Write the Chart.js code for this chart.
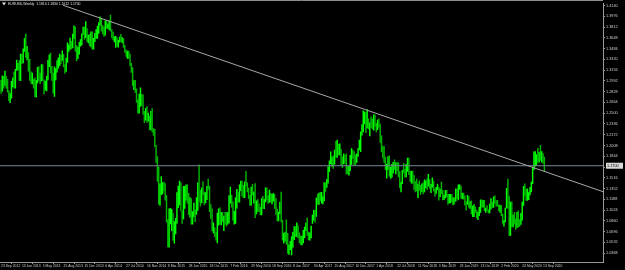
<!DOCTYPE html>
<html><head><meta charset="utf-8">
<script src="https://cdn.jsdelivr.net/npm/chart.js@4/dist/chart.umd.min.js"></script>
<style>html,body{margin:0;padding:0;background:#000;overflow:hidden}#wrap{width:625px;height:270px}</style>
</head><body><div id="wrap"><canvas id="c" width="625" height="270"></canvas></div>
<script>
// Weekly EURUSD bars, week 0 = 23 Sep 2012
const xTickLabels = ['23 Sep 2012','13 Jan 2013','5 May 2013','25 Aug 2013','15 Dec 2013','6 Apr 2014','27 Jul 2014','16 Nov 2014','8 Mar 2015','28 Jun 2015','18 Oct 2015','7 Feb 2016','29 May 2016','18 Sep 2016','8 Jan 2017','30 Apr 2017','20 Aug 2017','10 Dec 2017','1 Apr 2018','22 Jul 2018','11 Nov 2018','3 Mar 2019','23 Jun 2019','13 Oct 2019','2 Feb 2020','24 May 2020','13 Sep 2020'];
const xTickWeeks = [0,16,32,48,64,80,96,112,128,144,160,176,192,208,224,240,256,272,288,304,320,336,352,368,384,400,416];
const yTickValues = [1.4140,1.3976,1.3812,1.3648,1.3484,1.3320,1.3156,1.2992,1.2828,1.2664,1.2500,1.2336,1.2172,1.2008,1.1844,1.1680,1.1516,1.1352,1.1188,1.1024,1.0860,1.0696,1.0532,1.0368];
const headerText = 'EURUSD,Weekly  1.1814 1.1830 1.1612 1.1700';
const lastPrice = 1.1700;
const firstOpen = 1.2980;
const trendLine = [{x:47.6,y:1.4144},{x:462,y:1.1305}];

const highs = [
1.3000,1.3070,1.3060,1.3140,1.3060,1.3015,1.2840,1.2800,1.2985,1.3040,
1.3125,1.3170,1.3310,1.3260,1.3300,1.3400,1.3400,1.3480,1.3640,1.3710,
1.3520,1.3420,1.3320,1.3130,1.3110,1.3020,1.3040,1.3000,1.3200,1.3210,
1.3110,1.3240,1.3240,1.3010,1.2990,1.3060,1.3305,1.3390,1.3415,1.3215,
1.3110,1.3205,1.3180,1.3300,1.3345,1.3400,1.3380,1.3450,1.3395,1.3240,
1.3340,1.3570,1.3540,1.3645,1.3595,1.3705,1.3830,1.3810,1.3530,1.3505,
1.3580,1.3620,1.3710,1.3810,1.3810,1.3895,1.3790,1.3690,1.3700,1.3740,
1.3740,1.3640,1.3715,1.3775,1.3825,1.3880,1.3967,1.3945,1.3835,1.3810,
1.3905,1.3905,1.3860,1.3905,1.3993,1.3775,1.3735,1.3665,1.3670,1.3650,
1.3615,1.3660,1.3700,1.3650,1.3635,1.3535,1.3465,1.3445,1.3445,1.3400,
1.3260,1.3195,1.2995,1.3000,1.2870,1.2705,1.2790,1.2885,1.2790,1.2780,
1.2530,1.2575,1.2600,1.2500,1.2455,1.2530,1.2570,1.2265,1.2255,1.2010,
1.1840,1.1680,1.1425,1.1535,1.1445,1.1450,1.1430,1.1245,1.0880,1.1045,
1.1050,1.1035,1.0975,1.0850,1.0900,1.1290,1.1390,1.1465,1.1440,1.1010,
1.1385,1.1385,1.1410,1.1410,1.1280,1.1215,1.1200,1.1000,1.1130,1.1030,
1.1215,1.1440,1.1715,1.1330,1.1365,1.1460,1.1300,1.1290,1.1385,1.1495,
1.1390,1.1110,1.1045,1.0830,1.0760,1.0690,1.0980,1.1045,1.1060,1.0990,
1.0990,1.0935,1.0990,1.0990,1.0985,1.1245,1.1375,1.1250,1.1150,1.1005,
1.1215,1.1340,1.1290,1.1410,1.1465,1.1465,1.1400,1.1455,1.1615,1.1440,
1.1360,1.1250,1.1375,1.1415,1.1300,1.1430,1.1165,1.1185,1.1120,1.1065,
1.1200,1.1235,1.1185,1.1365,1.1365,1.1245,1.1330,1.1280,1.1265,1.1280,
1.1260,1.1200,1.1040,1.0995,1.1145,1.1300,1.0870,1.0670,1.0690,1.0875,
1.0670,1.0495,1.0550,1.0620,1.0685,1.0775,1.0775,1.0830,1.0785,1.0680,
1.0630,1.0630,1.0715,1.0765,1.0830,1.0905,1.0690,1.0680,1.0780,1.0950,
1.1020,1.1025,1.1210,1.1270,1.1285,1.1295,1.1295,1.1225,1.1445,1.1445,
1.1490,1.1685,1.1775,1.1910,1.1830,1.1850,1.1940,1.2070,1.2090,1.2030,
1.2035,1.1950,1.1835,1.1880,1.1860,1.1880,1.1690,1.1690,1.1860,1.1960,
1.1940,1.1915,1.1865,1.1880,1.1960,1.2090,1.2215,1.2325,1.2535,1.2520,
1.2510,1.2555,1.2415,1.2355,1.2445,1.2410,1.2475,1.2475,1.2345,1.2395,
1.2415,1.2335,1.2155,1.2000,1.1995,1.1830,1.1725,1.1840,1.1850,1.1675,
1.1720,1.1750,1.1790,1.1745,1.1750,1.1745,1.1610,1.1450,1.1630,1.1735,
1.1645,1.1720,1.1815,1.1815,1.1615,1.1620,1.1620,1.1550,1.1460,1.1500,
1.1420,1.1470,1.1400,1.1425,1.1440,1.1485,1.1470,1.1500,1.1570,1.1490,
1.1415,1.1515,1.1465,1.1345,1.1370,1.1420,1.1375,1.1345,1.1450,1.1325,
1.1255,1.1325,1.1325,1.1265,1.1265,1.1265,1.1265,1.1215,1.1215,1.1350,
1.1350,1.1410,1.1410,1.1390,1.1285,1.1285,1.1240,1.1150,1.1250,1.1230,
1.1155,1.1165,1.1085,1.1110,1.1075,1.1025,1.0990,1.1065,1.1180,1.1180,
1.1175,1.1175,1.1055,1.1095,1.1030,1.1115,1.1200,1.1145,1.1225,1.1240,
1.1170,1.1175,1.1100,1.1100,1.1095,1.0965,1.0865,1.1055,1.1355,1.1495,
1.1235,1.1145,1.1150,1.0950,1.0990,1.0890,1.0990,1.1015,1.0880,1.0975,
1.1145,1.1385,1.1425,1.1345,1.1350,1.1290,1.1370,1.1450,1.1680,1.1910,
1.1915,1.1870,1.1965,1.1905,1.2011,1.1915,1.1885,1.1830];
const lows = [
1.2802,1.2835,1.2880,1.2925,1.2880,1.2820,1.2690,1.2660,1.2730,1.2900,
1.2880,1.2880,1.3150,1.3160,1.3000,1.2995,1.3255,1.3265,1.3440,1.3350,
1.3310,1.3140,1.3000,1.2955,1.2945,1.2880,1.2750,1.2745,1.2960,1.2995,
1.2950,1.2990,1.2995,1.2795,1.2850,1.2840,1.3005,1.3210,1.3115,1.3000,
1.2805,1.2755,1.3005,1.3125,1.3185,1.3225,1.3255,1.3305,1.3205,1.3105,
1.3135,1.3275,1.3440,1.3470,1.3480,1.3495,1.3640,1.3440,1.3295,1.3330,
1.3400,1.3520,1.3540,1.3700,1.3625,1.3650,1.3590,1.3570,1.3530,1.3510,
1.3475,1.3475,1.3590,1.3640,1.3640,1.3715,1.3835,1.3750,1.3705,1.3670,
1.3690,1.3790,1.3790,1.3770,1.3750,1.3650,1.3615,1.3585,1.3500,1.3520,
1.3505,1.3580,1.3590,1.3570,1.3500,1.3425,1.3365,1.3335,1.3335,1.3225,
1.3120,1.2920,1.2860,1.2815,1.2665,1.2500,1.2500,1.2605,1.2615,1.2480,
1.2355,1.2395,1.2360,1.2380,1.2245,1.2245,1.2215,1.2160,1.1990,1.1750,
1.1460,1.1115,1.1095,1.1260,1.1270,1.1315,1.1175,1.0840,1.0462,1.0460,
1.0815,1.0710,1.0565,1.0520,1.0660,1.0820,1.1060,1.1105,1.1010,1.0820,
1.0890,1.1050,1.1175,1.1130,1.0955,1.0915,1.0810,1.0810,1.0925,1.0850,
1.0960,1.1020,1.1155,1.1085,1.1135,1.1260,1.1105,1.1135,1.1185,1.1340,
1.1000,1.0895,1.0710,1.0675,1.0620,1.0565,1.0525,1.0795,1.0805,1.0800,
1.0850,1.0710,1.0805,1.0780,1.0810,1.0830,1.1130,1.1070,1.0870,1.0810,
1.0820,1.1055,1.1145,1.1145,1.1320,1.1235,1.1215,1.1215,1.1385,1.1300,
1.1200,1.1095,1.1100,1.1250,1.1130,1.0910,1.0965,1.1000,1.1000,1.0950,
1.0950,1.1045,1.1045,1.1150,1.1180,1.1125,1.1140,1.1150,1.1120,1.1160,
1.1050,1.0960,1.0860,1.0860,1.0970,1.0845,1.0565,1.0520,1.0550,1.0505,
1.0365,1.0350,1.0420,1.0340,1.0455,1.0575,1.0620,1.0620,1.0600,1.0520,
1.0495,1.0495,1.0525,1.0605,1.0715,1.0640,1.0570,1.0565,1.0600,1.0820,
1.0870,1.0840,1.0930,1.1110,1.1110,1.1170,1.1130,1.1120,1.1165,1.1310,
1.1370,1.1435,1.1610,1.1730,1.1690,1.1660,1.1725,1.1825,1.1825,1.1870,
1.1860,1.1715,1.1670,1.1730,1.1730,1.1575,1.1575,1.1555,1.1625,1.1720,
1.1810,1.1715,1.1715,1.1750,1.1840,1.1940,1.1915,1.2165,1.2215,1.2335,
1.2205,1.2275,1.2260,1.2155,1.2280,1.2260,1.2240,1.2300,1.2215,1.2250,
1.2285,1.2055,1.1910,1.1820,1.1750,1.1640,1.1510,1.1640,1.1540,1.1505,
1.1525,1.1590,1.1640,1.1575,1.1620,1.1530,1.1365,1.1300,1.1425,1.1595,
1.1525,1.1530,1.1615,1.1565,1.1460,1.1435,1.1430,1.1335,1.1300,1.1315,
1.1215,1.1325,1.1265,1.1305,1.1270,1.1300,1.1365,1.1335,1.1390,1.1355,
1.1290,1.1375,1.1315,1.1235,1.1280,1.1335,1.1175,1.1230,1.1275,1.1180,
1.1185,1.1210,1.1225,1.1110,1.1135,1.1135,1.1150,1.1105,1.1120,1.1160,
1.1200,1.1180,1.1340,1.1205,1.1195,1.1190,1.1100,1.1025,1.1110,1.1065,
1.1050,1.0965,1.0925,1.0925,1.0990,1.0905,1.0880,1.0940,1.0990,1.1070,
1.1070,1.1015,1.0990,1.1015,1.0980,1.0980,1.1040,1.1065,1.1065,1.1125,
1.1085,1.1085,1.1015,1.0990,1.0940,1.0825,1.0780,1.0845,1.1055,1.1055,
1.0635,1.0640,1.0770,1.0770,1.0810,1.0730,1.0760,1.0765,1.0775,1.0805,
1.0870,1.1095,1.1240,1.1170,1.1170,1.1185,1.1255,1.1300,1.1425,1.1640,
1.1695,1.1710,1.1755,1.1755,1.1780,1.1755,1.1735,1.1612];
const closes = [
1.2860,1.3036,1.2955,1.3020,1.2940,1.2830,1.2710,1.2740,1.2970,1.2990,
1.2925,1.3160,1.3180,1.3220,1.3070,1.3340,1.3320,1.3460,1.3630,1.3365,
1.3365,1.3190,1.3020,1.3005,1.3075,1.2985,1.2820,1.2995,1.3110,1.3050,
1.3030,1.3110,1.3005,1.2835,1.2930,1.2990,1.3220,1.3345,1.3120,1.3010,
1.2830,1.3070,1.3140,1.3275,1.3280,1.3340,1.3330,1.3380,1.3220,1.3190,
1.3295,1.3525,1.3525,1.3555,1.3545,1.3685,1.3800,1.3485,1.3365,1.3495,
1.3560,1.3590,1.3705,1.3745,1.3675,1.3745,1.3590,1.3670,1.3540,1.3675,
1.3485,1.3635,1.3695,1.3745,1.3805,1.3875,1.3910,1.3790,1.3750,1.3705,
1.3885,1.3815,1.3830,1.3870,1.3755,1.3695,1.3630,1.3635,1.3640,1.3545,
1.3605,1.3645,1.3595,1.3605,1.3525,1.3430,1.3415,1.3415,1.3400,1.3240,
1.3130,1.2950,1.2965,1.2830,1.2685,1.2520,1.2625,1.2760,1.2670,1.2525,
1.2455,1.2525,1.2390,1.2450,1.2290,1.2465,1.2225,1.2180,1.2000,1.1840,
1.1565,1.1205,1.1290,1.1315,1.1390,1.1385,1.1195,1.0845,1.0495,1.0825,
1.0890,1.0970,1.0600,1.0805,1.0875,1.1200,1.1200,1.1445,1.1015,1.0985,
1.1110,1.1265,1.1350,1.1165,1.1110,1.1160,1.0830,1.0985,1.0985,1.0970,
1.1105,1.1385,1.1185,1.1145,1.1340,1.1300,1.1200,1.1210,1.1360,1.1350,
1.1015,1.1005,1.0740,1.0770,1.0645,1.0590,1.0885,1.0990,1.0870,1.0965,
1.0860,1.0925,1.0915,1.0795,1.0830,1.1155,1.1255,1.1130,1.0935,1.1000,
1.1150,1.1270,1.1165,1.1390,1.1395,1.1285,1.1225,1.1450,1.1405,1.1310,
1.1220,1.1115,1.1365,1.1255,1.1275,1.1120,1.1135,1.1055,1.1040,1.0975,
1.1175,1.1085,1.1160,1.1325,1.1195,1.1155,1.1235,1.1155,1.1225,1.1240,
1.1200,1.0970,1.0885,1.0985,1.1140,1.0850,1.0590,1.0590,1.0665,1.0560,
1.0450,1.0455,1.0520,1.0530,1.0645,1.0700,1.0695,1.0785,1.0640,1.0615,
1.0560,1.0620,1.0670,1.0740,1.0800,1.0650,1.0590,1.0615,1.0725,1.0895,
1.0995,1.0935,1.1205,1.1185,1.1280,1.1195,1.1195,1.1195,1.1425,1.1400,
1.1470,1.1665,1.1750,1.1775,1.1820,1.1760,1.1925,1.1860,1.2035,1.1945,
1.1950,1.1815,1.1730,1.1820,1.1785,1.1610,1.1605,1.1665,1.1795,1.1930,
1.1895,1.1770,1.1745,1.1860,1.1940,1.2030,1.2200,1.2220,1.2425,1.2460,
1.2250,1.2405,1.2295,1.2315,1.2310,1.2290,1.2350,1.2320,1.2280,1.2330,
1.2290,1.2130,1.1960,1.1940,1.1770,1.1650,1.1660,1.1770,1.1610,1.1655,
1.1685,1.1745,1.1685,1.1720,1.1655,1.1570,1.1410,1.1440,1.1620,1.1600,
1.1550,1.1625,1.1750,1.1605,1.1525,1.1560,1.1510,1.1400,1.1385,1.1335,
1.1415,1.1340,1.1315,1.1405,1.1305,1.1370,1.1440,1.1395,1.1470,1.1365,
1.1405,1.1455,1.1325,1.1295,1.1335,1.1365,1.1240,1.1325,1.1300,1.1215,
1.1215,1.1300,1.1245,1.1150,1.1200,1.1235,1.1160,1.1205,1.1170,1.1335,
1.1210,1.1370,1.1370,1.1225,1.1270,1.1220,1.1125,1.1110,1.1200,1.1090,
1.1145,1.0990,1.1030,1.1075,1.1015,1.0940,1.0980,1.1040,1.1145,1.1080,
1.1165,1.1020,1.1050,1.1020,1.1015,1.1060,1.1120,1.1080,1.1175,1.1155,
1.1120,1.1090,1.1025,1.1095,1.0945,1.0830,1.0845,1.1025,1.1285,1.1105,
1.0695,1.1140,1.0805,1.0940,1.0875,1.0820,1.0980,1.0840,1.0820,1.0900,
1.1100,1.1290,1.1255,1.1175,1.1220,1.1245,1.1300,1.1425,1.1655,1.1775,
1.1785,1.1840,1.1795,1.1905,1.1840,1.1845,1.1814,1.1700];

const UP = '#00ff00', DOWN = '#00b400';
const barData = highs.map((h, i) => ({x: i, y: [lows[i], h]}));
const barColors = closes.map((c, i) => c >= (i === 0 ? firstOpen : closes[i - 1]) ? UP : DOWN);
const FONT = 'Liberation Sans';

const decor = {
  id: 'decor',
  beforeDraw(chart) {
    const ctx = chart.ctx;
    ctx.save(); ctx.fillStyle = '#000'; ctx.fillRect(0, 0, chart.width, chart.height); ctx.restore();
  },
  afterDraw(chart) {
    const ctx = chart.ctx, ca = chart.chartArea, y = chart.scales.y;
    ctx.save();
    ctx.strokeStyle = '#8c8c8c'; ctx.lineWidth = 1;
    ctx.beginPath(); ctx.moveTo(0, 0.5); ctx.lineTo(ca.right, 0.5); ctx.stroke();
    ctx.fillStyle = '#e0e0e0';
    ctx.beginPath(); ctx.moveTo(2, 2.5); ctx.lineTo(6, 2.5); ctx.lineTo(4, 5.5); ctx.closePath(); ctx.fill();
    ctx.font = '3.4px "' + FONT + '"'; ctx.textBaseline = 'middle'; ctx.textAlign = 'left';
    ctx.fillText(headerText, 8, 4);
    const py = y.getPixelForValue(lastPrice);
    ctx.fillStyle = '#d8d8d8';
    ctx.fillRect(ca.right + 3, py - 3, 17, 6);
    ctx.fillStyle = '#000';
    ctx.font = '3.8px "' + FONT + '"';
    ctx.fillText(lastPrice.toFixed(4), ca.right + 4, py);
    ctx.restore();
  }
};

new Chart(document.getElementById('c'), {
  data: {
    datasets: [
      {type: 'line', data: trendLine, borderColor: '#a8a8a8', borderWidth: 1, pointRadius: 0, tension: 0, order: 1},
      {type: 'line', data: [{x: -1, y: lastPrice}, {x: 470, y: lastPrice}], borderColor: '#778899', borderWidth: 1, pointRadius: 0, order: 1},
      {type: 'bar', data: barData, backgroundColor: barColors, borderWidth: 0, barThickness: 0.8, grouped: false, order: 2}
    ]
  },
  options: {
    responsive: false, animation: false, devicePixelRatio: 1,
    layout: {padding: {top: 1, left: 0, right: 0, bottom: 0}},
    plugins: {legend: {display: false}, tooltip: {enabled: false}, title: {display: false}},
    scales: {
      x: {
        type: 'linear', min: -0.8, max: 462, offset: false,
        afterBuildTicks: s => { s.ticks = xTickWeeks.map(v => ({value: v})); },
        afterFit: s => { s.height = 8; },
        ticks: {autoSkip: false, maxRotation: 0, minRotation: 0, align: 'start', padding: 0,
          color: '#cfcfcf', font: {family: FONT, size: 3.4},
          callback: (v) => xTickLabels[xTickWeeks.indexOf(v)]},
        grid: {drawOnChartArea: false, drawTicks: true, tickLength: 2, color: '#9a9a9a'},
        border: {color: '#9a9a9a'}
      },
      y: {
        type: 'linear', position: 'right', min: 1.0234, max: 1.4174,
        afterBuildTicks: s => { s.ticks = yTickValues.map(v => ({value: v})); },
        afterFit: s => { s.width = 22; },
        ticks: {padding: 1, color: '#cfcfcf', font: {family: FONT, size: 3.8},
          callback: v => v.toFixed(4)},
        grid: {drawOnChartArea: false, drawTicks: true, tickLength: 2, color: '#9a9a9a'},
        border: {color: '#9a9a9a'}
      }
    }
  },
  plugins: [decor]
});
</script>
</body></html>
